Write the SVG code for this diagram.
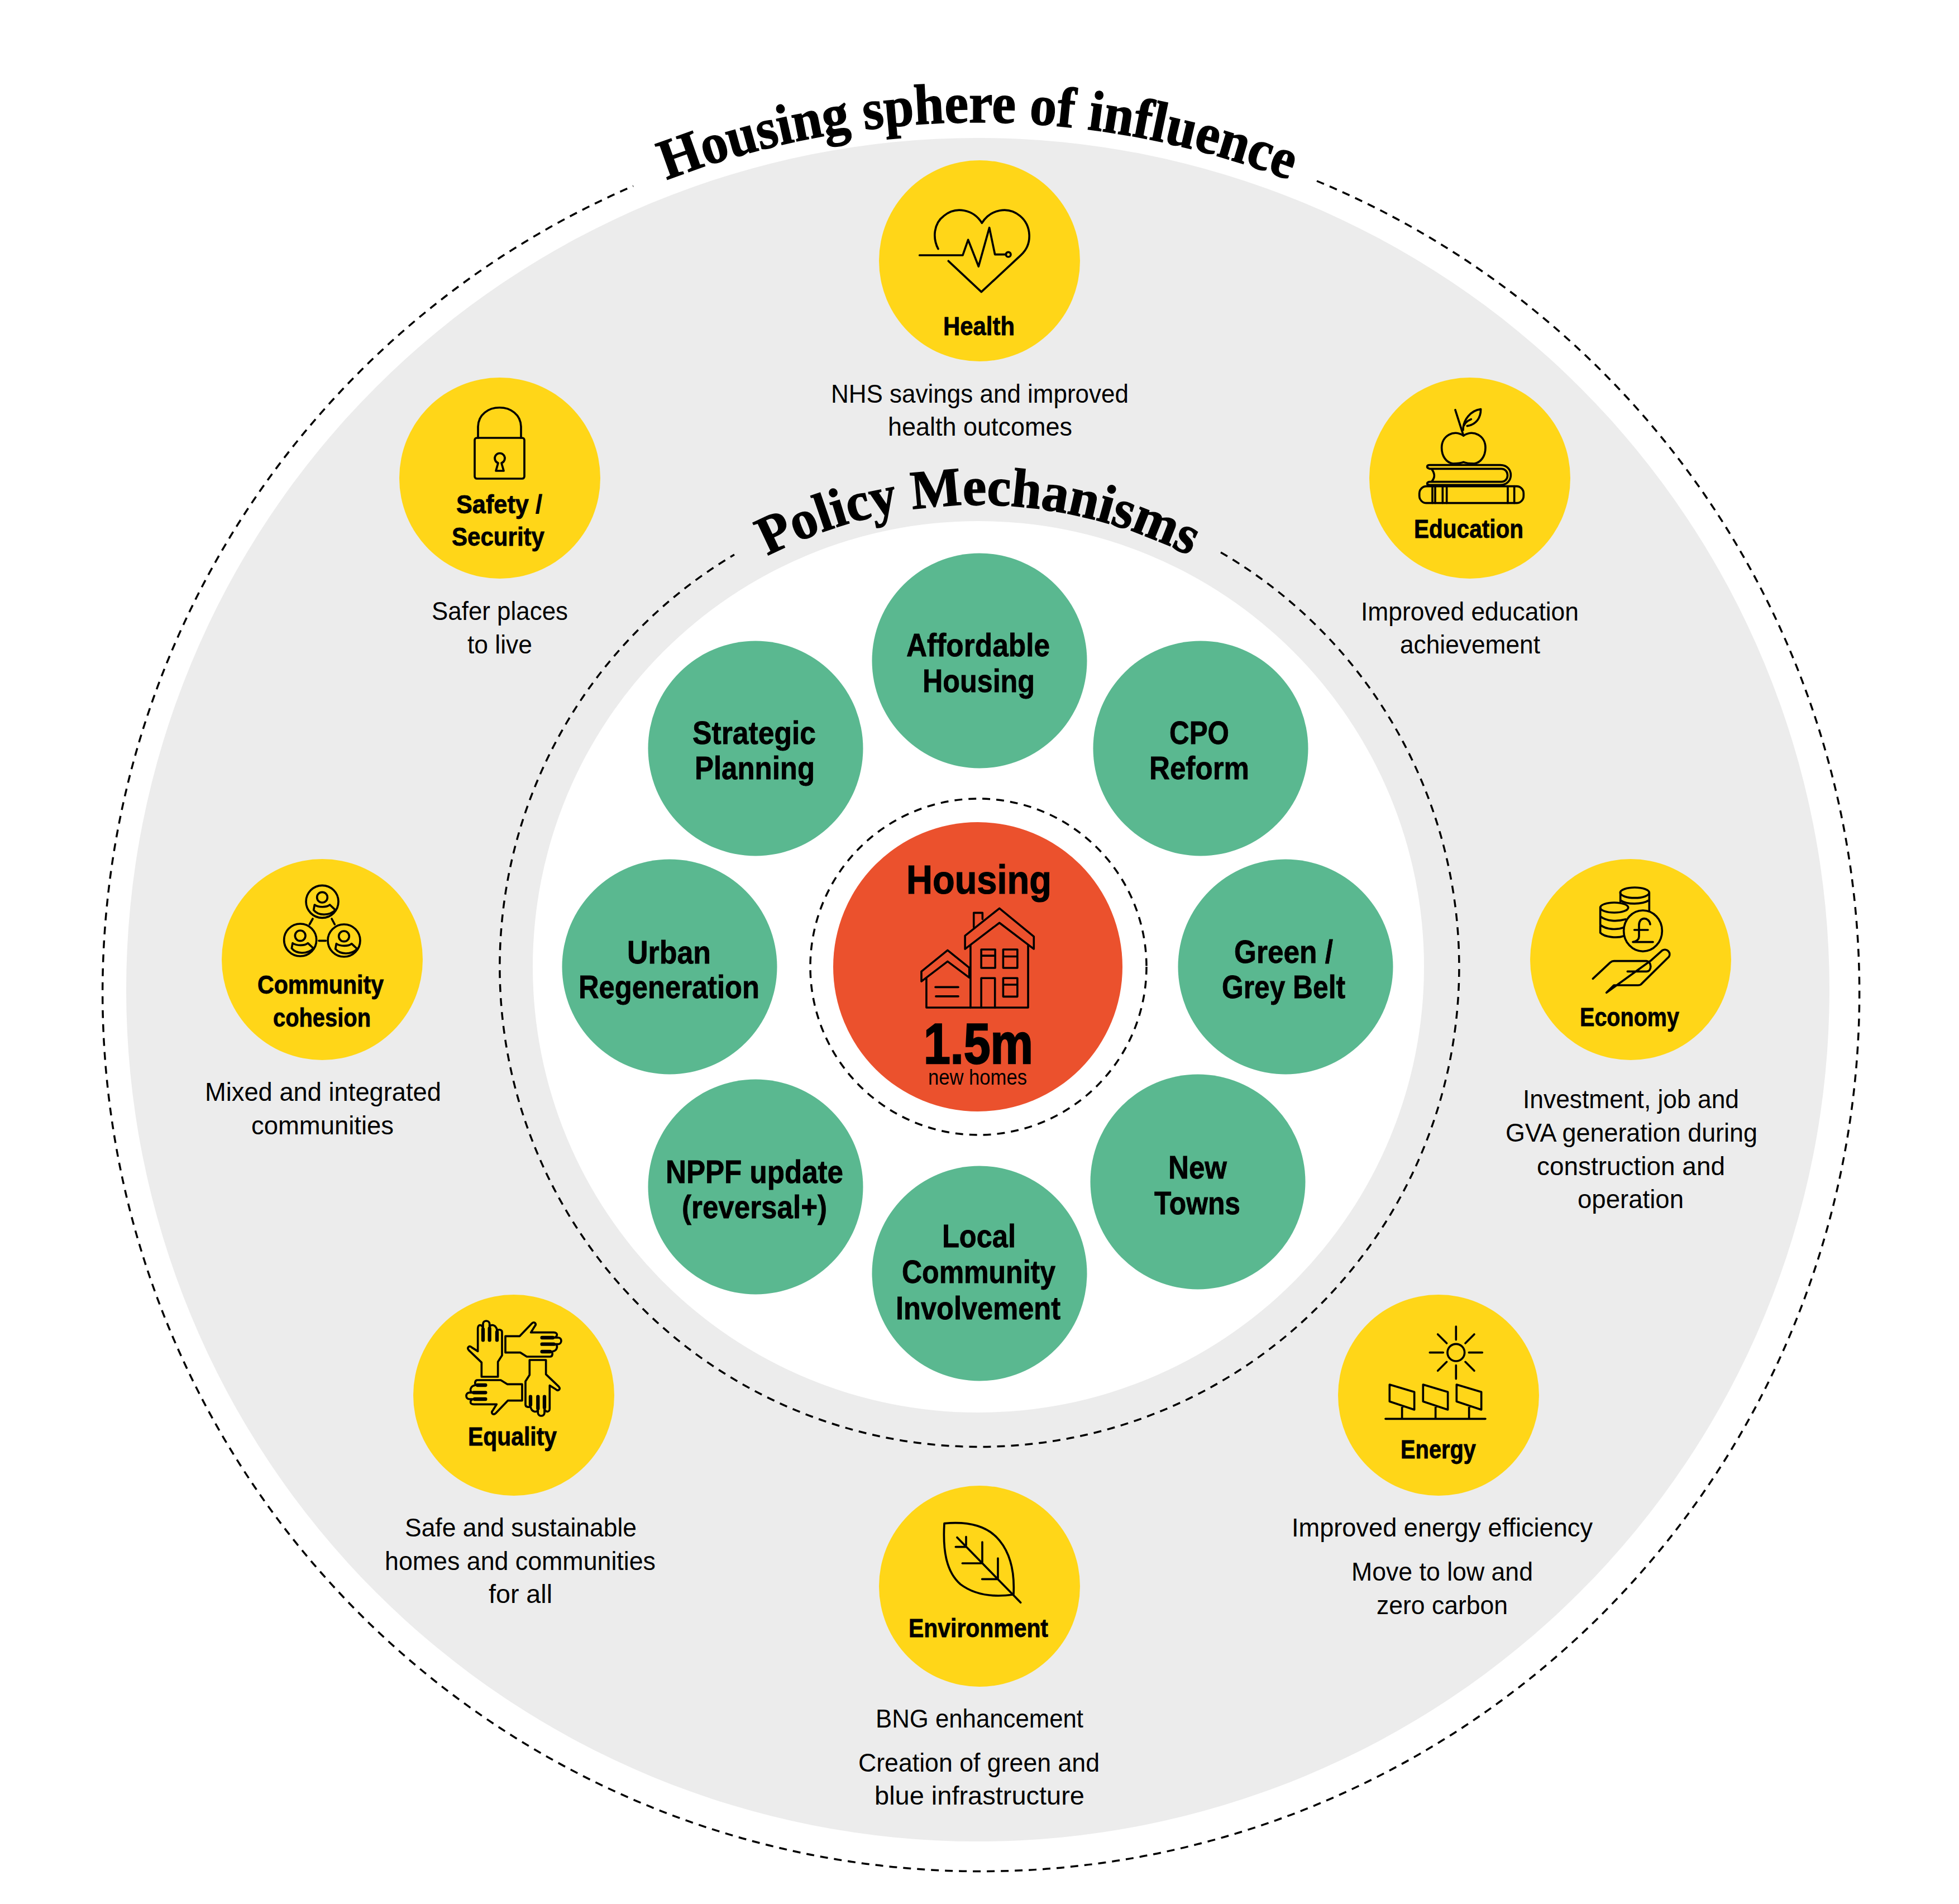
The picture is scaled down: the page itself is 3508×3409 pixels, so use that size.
<svg xmlns="http://www.w3.org/2000/svg" xmlns:xlink="http://www.w3.org/1999/xlink" width="3508" height="3409" viewBox="0 0 3508 3409">
<style>
text{font-family:"Liberation Sans",Arial,sans-serif;fill:#000}
.b{font-size:46px;font-weight:700;stroke:#000;stroke-width:.8}
.g{font-size:58px;font-weight:700;stroke:#000;stroke-width:.8}
.d{font-size:46px;font-weight:400}
.t{font-family:"Liberation Serif","Times New Roman",serif;font-size:102px;font-weight:700;stroke:#000;stroke-width:1.5}
.t2{font-size:98px}
.y{fill:#ffd618}
.gr{fill:#5ab890}
.dash{fill:none;stroke:#000;stroke-width:3.5;stroke-dasharray:14 11}
.i{fill:none;stroke:#000;stroke-width:3.7;stroke-linecap:round;stroke-linejoin:round}
.z{fill:none;stroke:#000;stroke-width:11;stroke-linecap:round;stroke-linejoin:round}
</style>
<defs>
<path id="arc1" d="M198,1772A1553,1553 0 0 1 3304,1772"/>
<path id="arc2" d="M925,1731A827,827 0 0 1 2579,1731"/>
<g id="person"><circle r="87"/><circle cy="-23" r="28"/><path d="M-41,17C-21,32 24,32 41,17L71,45C39,77-21,77-46,45Z"/></g>
<g id="hand"><path d="M487,495V418L418,352C405,338 422,325 435,338L467,358V235C467,212 490,212 495,235V298V210C497,190 527,190 530,210V298V228C533,212 565,212 570,245V298V250C572,238 597,240 597,255V380L575,415V495Z"/><path d="M495,240V298M530,235V298M570,255V298" stroke-width="19"/></g>
</defs>
<rect width="3508" height="3409" fill="#fff"/>
<circle cx="1751" cy="1772" r="1525" fill="#ececec"/>
<circle cx="1752" cy="1731" r="798" fill="#fff"/>
<g id="rings">
<path class="dash" d="M2358,324A1573,1573 0 1 1 1134,333"/>
<path class="dash" d="M2186,989A859,859 0 1 1 1315,993"/>
<circle class="dash" cx="1752" cy="1731" r="301"/>
</g>
<g id="titles">
<text class="t"><textPath href="#arc1" startOffset="50%" text-anchor="middle" textLength="1140" lengthAdjust="spacingAndGlyphs">Housing sphere of influence</textPath></text>
<text class="t t2"><textPath href="#arc2" startOffset="50%" text-anchor="middle" textLength="785" lengthAdjust="spacingAndGlyphs">Policy Mechanisms</textPath></text>
</g>
<g id="housing">
<circle cx="1751" cy="1731" r="259" fill="#eb512d"/>
<text x="1623" y="1600" style="font-size:73px;font-weight:700;stroke:#000;stroke-width:1.2" textLength="260" lengthAdjust="spacingAndGlyphs">Housing</text>
<g transform="translate(1400,1400) scale(.4464)" class="z" style="stroke-width:8">
<path d="M735,617L873,507L1011,620V670L873,565L735,670Z"/><path d="M757,655V905H988V655"/><path d="M770,583V525H805V550"/>
<path d="M800,672H856V746H800ZM800,697H856M888,672H945V746H888ZM888,700H945M800,905V787H855V905M888,787H945V861H888ZM888,813H945"/>
<path d="M560,760L665,675L752,745V785L665,720L560,800ZM580,785V905H757M616,823H708M618,860H708"/>
</g>
<text x="1654" y="1904" style="font-size:102px;font-weight:700" stroke="#000" stroke-width="2.5" textLength="196" lengthAdjust="spacingAndGlyphs">1.5m</text>
<text x="1662" y="1942" style="font-size:38px" textLength="177" lengthAdjust="spacingAndGlyphs">new homes</text>
</g>
<g id="mech-affordable"><circle class="gr" cx="1754" cy="1183" r="192.5"/><text class="g" x="1623" y="1175" textLength="257" lengthAdjust="spacingAndGlyphs">Affordable</text><text class="g" x="1652" y="1239" textLength="201" lengthAdjust="spacingAndGlyphs">Housing</text></g>
<g id="mech-cpo"><circle class="gr" cx="2150" cy="1340" r="192.5"/><text class="g" x="2094" y="1332" textLength="107" lengthAdjust="spacingAndGlyphs">CPO</text><text class="g" x="2058" y="1395" textLength="179" lengthAdjust="spacingAndGlyphs">Reform</text></g>
<g id="mech-green"><circle class="gr" cx="2302" cy="1731" r="192.5"/><text class="g" x="2210" y="1724" textLength="177" lengthAdjust="spacingAndGlyphs">Green /</text><text class="g" x="2188" y="1787" textLength="221" lengthAdjust="spacingAndGlyphs">Grey Belt</text></g>
<g id="mech-newtowns"><circle class="gr" cx="2145" cy="2116" r="192.5"/><text class="g" x="2092" y="2110" textLength="105" lengthAdjust="spacingAndGlyphs">New</text><text class="g" x="2067" y="2174" textLength="154" lengthAdjust="spacingAndGlyphs">Towns</text></g>
<g id="mech-local"><circle class="gr" cx="1754" cy="2280" r="192.5"/><text class="g" x="1687" y="2233" textLength="132" lengthAdjust="spacingAndGlyphs">Local</text><text class="g" x="1615" y="2297" textLength="275" lengthAdjust="spacingAndGlyphs">Community</text><text class="g" x="1604" y="2362" textLength="295" lengthAdjust="spacingAndGlyphs">Involvement</text></g>
<g id="mech-nppf"><circle class="gr" cx="1353" cy="2125" r="192.5"/><text class="g" x="1192" y="2118" textLength="318" lengthAdjust="spacingAndGlyphs">NPPF update</text><text class="g" x="1221" y="2181" textLength="260" lengthAdjust="spacingAndGlyphs">(reversal+)</text></g>
<g id="mech-urban"><circle class="gr" cx="1199" cy="1731" r="192.5"/><text class="g" x="1123" y="1725" textLength="150" lengthAdjust="spacingAndGlyphs">Urban</text><text class="g" x="1036" y="1787" textLength="324" lengthAdjust="spacingAndGlyphs">Regeneration</text></g>
<g id="mech-strategic"><circle class="gr" cx="1353" cy="1340" r="192.5"/><text class="g" x="1240" y="1332" textLength="221" lengthAdjust="spacingAndGlyphs">Strategic</text><text class="g" x="1244" y="1395" textLength="215" lengthAdjust="spacingAndGlyphs">Planning</text></g>
<g id="health"><circle class="y" cx="1754" cy="467" r="180"/>
<g transform="translate(1580,300) scale(.3333)" class="z"><path d="M300,437C270,380 275,300 330,260C395,205 490,225 535,298C580,225 675,205 740,260C800,310 810,410 745,470L532,668L355,502"/><path d="M200,471H432L461,388L517,531L575,323L605,467H665"/><circle cx="677" cy="467" r="13"/></g>
<text class="b" x="1689" y="600" textLength="128" lengthAdjust="spacingAndGlyphs">Health</text>
<text class="d" x="1488" y="721" textLength="533" lengthAdjust="spacingAndGlyphs">NHS savings and improved</text><text class="d" x="1590" y="780" textLength="330" lengthAdjust="spacingAndGlyphs">health outcomes</text></g>
<g id="safety"><circle class="y" cx="895" cy="856" r="180"/>
<g class="i"><rect x="850" y="784" width="89" height="73" rx="4"/><path d="M856,784V765C856,718 933,718 933,765V784"/><path d="M888,843H902L898,829A9,9 0 1 0 892,829Z"/></g>
<text class="b" x="817" y="919" textLength="154" lengthAdjust="spacingAndGlyphs">Safety /</text><text class="b" x="809" y="977" textLength="166" lengthAdjust="spacingAndGlyphs">Security</text>
<text class="d" x="773" y="1110" textLength="244" lengthAdjust="spacingAndGlyphs">Safer places</text><text class="d" x="837" y="1170" textLength="116" lengthAdjust="spacingAndGlyphs">to live</text></g>
<g id="education"><circle class="y" cx="2632" cy="856" r="180"/>
<g transform="translate(2520,720) scale(.3333)" class="z">
<path d="M258,42L302,180"/><path d="M300,150C300,95 340,45 395,38C395,85 370,120 322,128M305,125C310,110 325,100 343,92"/>
<path d="M302,180C250,145 185,180 185,245C185,290 210,325 245,330C265,330 285,330 302,322C320,330 340,330 360,330C395,325 420,290 420,245C420,180 355,145 302,180Z"/>
<path d="M120,338H500C575,338 575,445 500,445H120C100,445 105,430 120,428H505C550,428 550,358 505,358H120C100,352 105,338 120,338ZM130,358C150,385 150,405 130,428"/>
<rect x="65" y="452" width="560" height="90" rx="38"/><path d="M135,452V542M150,452V542M190,452V542M212,452V542M540,452V542M575,452V542"/>
</g>
<text class="b" x="2532" y="963" textLength="196" lengthAdjust="spacingAndGlyphs">Education</text>
<text class="d" x="2437" y="1111" textLength="390" lengthAdjust="spacingAndGlyphs">Improved education</text><text class="d" x="2507" y="1170" textLength="251" lengthAdjust="spacingAndGlyphs">achievement</text></g>
<g id="economy"><circle class="y" cx="2920" cy="1718" r="180"/>
<g transform="translate(2820,1570) scale(.3333)" class="z">
<ellipse cx="322" cy="85" rx="78" ry="28"/><path d="M245,85V132M400,85V180M245,125C280,150 360,150 400,125"/>
<ellipse cx="212" cy="165" rx="75" ry="27"/><path d="M137,165V300C160,325 230,330 262,318M137,212C170,240 230,240 272,228M137,258C170,285 230,285 262,272"/>
<ellipse cx="366" cy="290" rx="103" ry="110"/><path d="M405,255C400,215 345,210 345,260V320C345,335 335,345 312,350H420M320,285H393"/>
<path d="M97,547L190,460Q200,452 210,452H385C415,455 415,508 385,508H283M412,447L470,395C495,380 520,410 505,430L355,578Q350,582 340,582H210L170,622Z"/>
</g>
<text class="b" x="2829" y="1837" textLength="178" lengthAdjust="spacingAndGlyphs">Economy</text>
<text class="d" x="2727" y="1984" textLength="387" lengthAdjust="spacingAndGlyphs">Investment, job and</text><text class="d" x="2696" y="2044" textLength="451" lengthAdjust="spacingAndGlyphs">GVA generation during</text><text class="d" x="2752" y="2104" textLength="337" lengthAdjust="spacingAndGlyphs">construction and</text><text class="d" x="2825" y="2163" textLength="190" lengthAdjust="spacingAndGlyphs">operation</text></g>
<g id="community"><circle class="y" cx="577" cy="1718" r="180"/>
<g transform="translate(470,1570) scale(.3333)" class="z"><use href="#person" x="321" y="133"/><use href="#person" x="203" y="339"/><use href="#person" x="438" y="342"/><path d="M253,255L270,225M372,225L388,255M303,343H340"/></g>
<text class="b" x="461" y="1779" textLength="226" lengthAdjust="spacingAndGlyphs">Community</text><text class="b" x="489" y="1838" textLength="175" lengthAdjust="spacingAndGlyphs">cohesion</text>
<text class="d" x="367" y="1971" textLength="423" lengthAdjust="spacingAndGlyphs">Mixed and integrated</text><text class="d" x="450" y="2031" textLength="255" lengthAdjust="spacingAndGlyphs">communities</text></g>
<g id="equality"><circle class="y" cx="920" cy="2498" r="180"/>
<g transform="translate(700,2300) scale(.3333)" class="z"><use href="#hand"/><use href="#hand" transform="rotate(90 660 450)"/><use href="#hand" transform="rotate(180 660 450)"/><use href="#hand" transform="rotate(270 660 450)"/></g>
<text class="b" x="838" y="2588" textLength="159" lengthAdjust="spacingAndGlyphs">Equality</text>
<text class="d" x="725" y="2751" textLength="415" lengthAdjust="spacingAndGlyphs">Safe and sustainable</text><text class="d" x="689" y="2811" textLength="485" lengthAdjust="spacingAndGlyphs">homes and communities</text><text class="d" x="875" y="2870" textLength="114" lengthAdjust="spacingAndGlyphs">for all</text></g>
<g id="energy"><circle class="y" cx="2576" cy="2498" r="180"/>
<g transform="translate(2380,2300) scale(.3333)" class="z"><circle cx="682" cy="365" r="46"/><path d="M682,225V296M682,434V506M541,365H613M751,365H823M584,267L632,315M732,415L780,463M780,267L732,315M632,415L584,463"/><path d="M325,537L458,577V672L325,628ZM505,537L638,577V672L505,628ZM685,537L818,577V672L685,628ZM392,650V720M572,650V720M752,650V720M303,721H840"/></g>
<text class="b" x="2508" y="2611" textLength="135" lengthAdjust="spacingAndGlyphs">Energy</text>
<text class="d" x="2313" y="2751" textLength="539" lengthAdjust="spacingAndGlyphs">Improved energy efficiency</text><text class="d" x="2420" y="2830" textLength="325" lengthAdjust="spacingAndGlyphs">Move to low and</text><text class="d" x="2465" y="2890" textLength="235" lengthAdjust="spacingAndGlyphs">zero carbon</text></g>
<g id="environment"><circle class="y" cx="1754" cy="2840" r="180"/>
<g transform="translate(1550,2650) scale(.3333)" class="z"><path d="M423,233C560,220 660,250 720,325C790,410 800,520 795,615C690,630 590,620 510,560C430,490 415,370 423,233Z"/><path d="M492,308L833,658M540,305V350M484,359H538M627,333V445M520,447H625M711,420V530M626,532H708"/></g>
<text class="b" x="1627" y="2931" textLength="250" lengthAdjust="spacingAndGlyphs">Environment</text>
<text class="d" x="1568" y="3093" textLength="372" lengthAdjust="spacingAndGlyphs">BNG enhancement</text><text class="d" x="1537" y="3172" textLength="432" lengthAdjust="spacingAndGlyphs">Creation of green and</text><text class="d" x="1566" y="3231" textLength="376" lengthAdjust="spacingAndGlyphs">blue infrastructure</text></g>
</svg>
